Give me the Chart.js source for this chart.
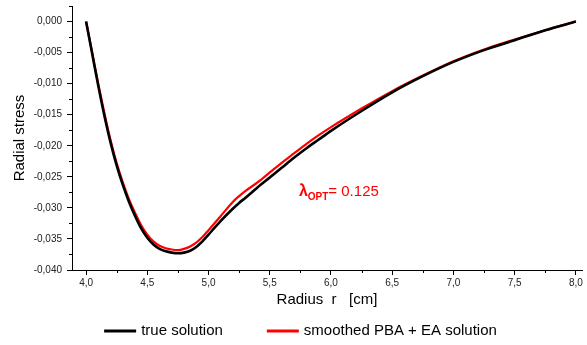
<!DOCTYPE html>
<html>
<head>
<meta charset="utf-8">
<script src="https://cdn.jsdelivr.net/npm/chart.js@4.4.3/dist/chart.umd.min.js"></script>
<style>
    html, body { margin: 0; padding: 0; background: #fff; }
    #wrap { width: 587px; height: 345px; }
</style>
</head>
<body>
<div id="wrap"><canvas id="stressChart" width="587" height="345"></canvas></div>
<script>
    // radius values [cm]
    const radius = [4.0, 4.05, 4.1, 4.15, 4.2, 4.25, 4.3, 4.35, 4.4, 4.45, 4.5, 4.55, 4.6, 4.65, 4.7, 4.75,
        4.8, 4.85, 4.9, 4.95, 5.0, 5.1, 5.2, 5.25, 5.3, 5.4, 5.5, 5.6, 5.7, 5.8, 5.9, 6.0,
        6.25, 6.5, 6.75, 7.0, 7.25, 7.5, 7.75, 8.0];

    const trueSolution = [0, -0.0052, -0.0104, -0.0152, -0.0195, -0.0232, -0.0263, -0.0290, -0.0313, -0.0333,
        -0.0348, -0.0359, -0.0366, -0.0370, -0.0372, -0.0373, -0.0372, -0.0369, -0.0363, -0.0354, -0.0343,
        -0.0321, -0.0301, -0.0292, -0.0284, -0.0267, -0.0251, -0.0235, -0.0219, -0.0204, -0.0190, -0.0176,
        -0.0144, -0.0114, -0.0088, -0.0065, -0.0046, -0.0030, -0.0014, 0];

    const smoothedSolution = [0, -0.0050, -0.0101, -0.0148, -0.0191, -0.0228, -0.0259, -0.0286, -0.0308, -0.0328,
        -0.0343, -0.0354, -0.0361, -0.0365, -0.0367, -0.0368, -0.0366, -0.0362, -0.0356, -0.0347, -0.0336,
        -0.0313, -0.0290, -0.0281, -0.0273, -0.0259, -0.0243, -0.0227, -0.0212, -0.0197, -0.0183, -0.0170,
        -0.0140, -0.0112, -0.0087, -0.0064, -0.0045, -0.0029, -0.0014, 0];

    const xTicks = [4.0, 4.5, 5.0, 5.5, 6.0, 6.5, 7.0, 7.5, 8.0];
    const xMinorTicks = [4.25, 4.75, 5.25, 5.75, 6.25, 6.75, 7.25, 7.75];
    const yTicks = [0, -0.005, -0.010, -0.015, -0.020, -0.025, -0.030, -0.035, -0.040];
    const yMinorTicks = [0.0025, -0.0025, -0.0075, -0.0125, -0.0175, -0.0225, -0.0275, -0.0325, -0.0375];

    const labelText = { lambda: 'λ', sub: 'OPT', value: '= 0.125', x: 5.738, y: -0.02806 };

    const FONT = "'Liberation Sans', Arial, sans-serif";

    function toPoints(ys) {
        return radius.map((r, i) => ({ x: r, y: ys[i] }));
    }

    function commaLabel(decimals) {
        return (v) => v.toFixed(decimals).replace('.', ',');
    }

    // minor ticks, the lambda annotation and the legend row
    const extrasPlugin = {
        id: 'extras',
        afterDraw(chart) {
            const ctx = chart.ctx;
            const xs = chart.scales.x;
            const ys = chart.scales.y;
            const area = chart.chartArea;
            ctx.save();
            ctx.strokeStyle = '#000';
            ctx.lineWidth = 1;
            ctx.beginPath();
            xMinorTicks.forEach((v) => {
                const px = Math.round(xs.getPixelForValue(v)) + 0.5;
                ctx.moveTo(px, area.bottom);
                ctx.lineTo(px, area.bottom + 3);
            });
            yMinorTicks.forEach((v) => {
                const py = Math.round(ys.getPixelForValue(v)) + 0.5;
                ctx.moveTo(area.left, py);
                ctx.lineTo(area.left - 3, py);
            });
            ctx.stroke();

            const tx = xs.getPixelForValue(labelText.x);
            const ty = ys.getPixelForValue(labelText.y);
            ctx.fillStyle = '#ff0000';
            ctx.textBaseline = 'alphabetic';
            ctx.font = 'bold 16px ' + FONT;
            ctx.fillText(labelText.lambda, tx, ty);
            let w = ctx.measureText(labelText.lambda).width;
            ctx.font = 'bold 10px ' + FONT;
            ctx.fillText(labelText.sub, tx + w, ty + 4);
            w += ctx.measureText(labelText.sub).width;
            ctx.font = '15px ' + FONT;
            ctx.fillText(labelText.value, tx + w, ty);

            // legend
            const lineLen = 32;
            const textGap = 5;
            const itemGap = 44;
            ctx.font = '15px ' + FONT;
            const items = chart.data.datasets.map((ds) => ({
                label: ds.label,
                color: ds.borderColor,
                width: lineLen + textGap + ctx.measureText(ds.label).width,
            }));
            const total = items.reduce((s, it) => s + it.width, 0) + itemGap * (items.length - 1);
            let lx = chart.width / 2 - total / 2 + 7;
            const ly = chart.height - 14;
            ctx.textBaseline = 'middle';
            items.forEach((it) => {
                ctx.strokeStyle = it.color;
                ctx.lineWidth = 3;
                ctx.beginPath();
                ctx.moveTo(lx, ly);
                ctx.lineTo(lx + lineLen, ly);
                ctx.stroke();
                ctx.fillStyle = '#000';
                ctx.fillText(it.label, lx + lineLen + textGap, ly);
                lx += it.width + itemGap;
            });
            ctx.restore();
        },
    };

    const ctx = document.getElementById('stressChart').getContext('2d');
    // eslint-disable-next-line no-undef
    new Chart(ctx, {
        type: 'scatter',
        data: {
            datasets: [
                {
                    label: 'true solution',
                    data: toPoints(trueSolution),
                    showLine: true,
                    borderColor: '#000000',
                    backgroundColor: '#000000',
                    borderWidth: 2.6,
                    pointRadius: 0,
                    cubicInterpolationMode: 'monotone',
                },
                {
                    label: 'smoothed PBA + EA solution',
                    data: toPoints(smoothedSolution),
                    showLine: true,
                    borderColor: '#ff0000',
                    backgroundColor: '#ff0000',
                    borderWidth: 2.2,
                    pointRadius: 0,
                    cubicInterpolationMode: 'monotone',
                },
            ],
        },
        options: {
            responsive: false,
            animation: false,
            layout: { autoPadding: false, padding: { top: 6, right: 5, left: 0, bottom: 28 } },
            plugins: {
                tooltip: { enabled: false },
                legend: { display: false },
            },
            scales: {
                x: {
                    type: 'linear',
                    min: 3.885,
                    max: 8.05,
                    afterBuildTicks: (scale) => { scale.ticks = xTicks.map((v) => ({ value: v })); },
                    afterFit: (scale) => {
                        scale.height = 47;
                        scale.paddingLeft = 0;
                        scale.paddingRight = 0;
                    },
                    ticks: {
                        color: '#222',
                        padding: 2,
                        maxRotation: 0,
                        font: { family: FONT, size: 10 },
                        callback: commaLabel(1),
                    },
                    grid: { drawOnChartArea: false, drawTicks: true, tickLength: 5, color: '#000' },
                    border: { color: '#000', width: 1 },
                    title: {
                        display: true,
                        text: 'Radius  r   [cm]',
                        color: '#000',
                        font: { family: FONT, size: 15 },
                        padding: { top: 0, bottom: 8 },
                    },
                },
                y: {
                    min: -0.04,
                    max: 0.0025,
                    afterBuildTicks: (scale) => { scale.ticks = yTicks.map((v) => ({ value: v })); },
                    afterFit: (scale) => {
                        scale.width = 72;
                        scale.paddingTop = 0;
                        scale.paddingBottom = 0;
                    },
                    ticks: {
                        color: '#222',
                        padding: 5,
                        font: { family: FONT, size: 10 },
                        callback: commaLabel(3),
                    },
                    grid: { drawOnChartArea: false, drawTicks: true, tickLength: 5, color: '#000' },
                    border: { color: '#000', width: 1 },
                    title: {
                        display: true,
                        text: 'Radial stress',
                        color: '#000',
                        font: { family: FONT, size: 15 },
                        padding: { top: 11, bottom: 0 },
                    },
                },
            },
        },
        plugins: [extrasPlugin],
    });
</script>
</body>
</html>
